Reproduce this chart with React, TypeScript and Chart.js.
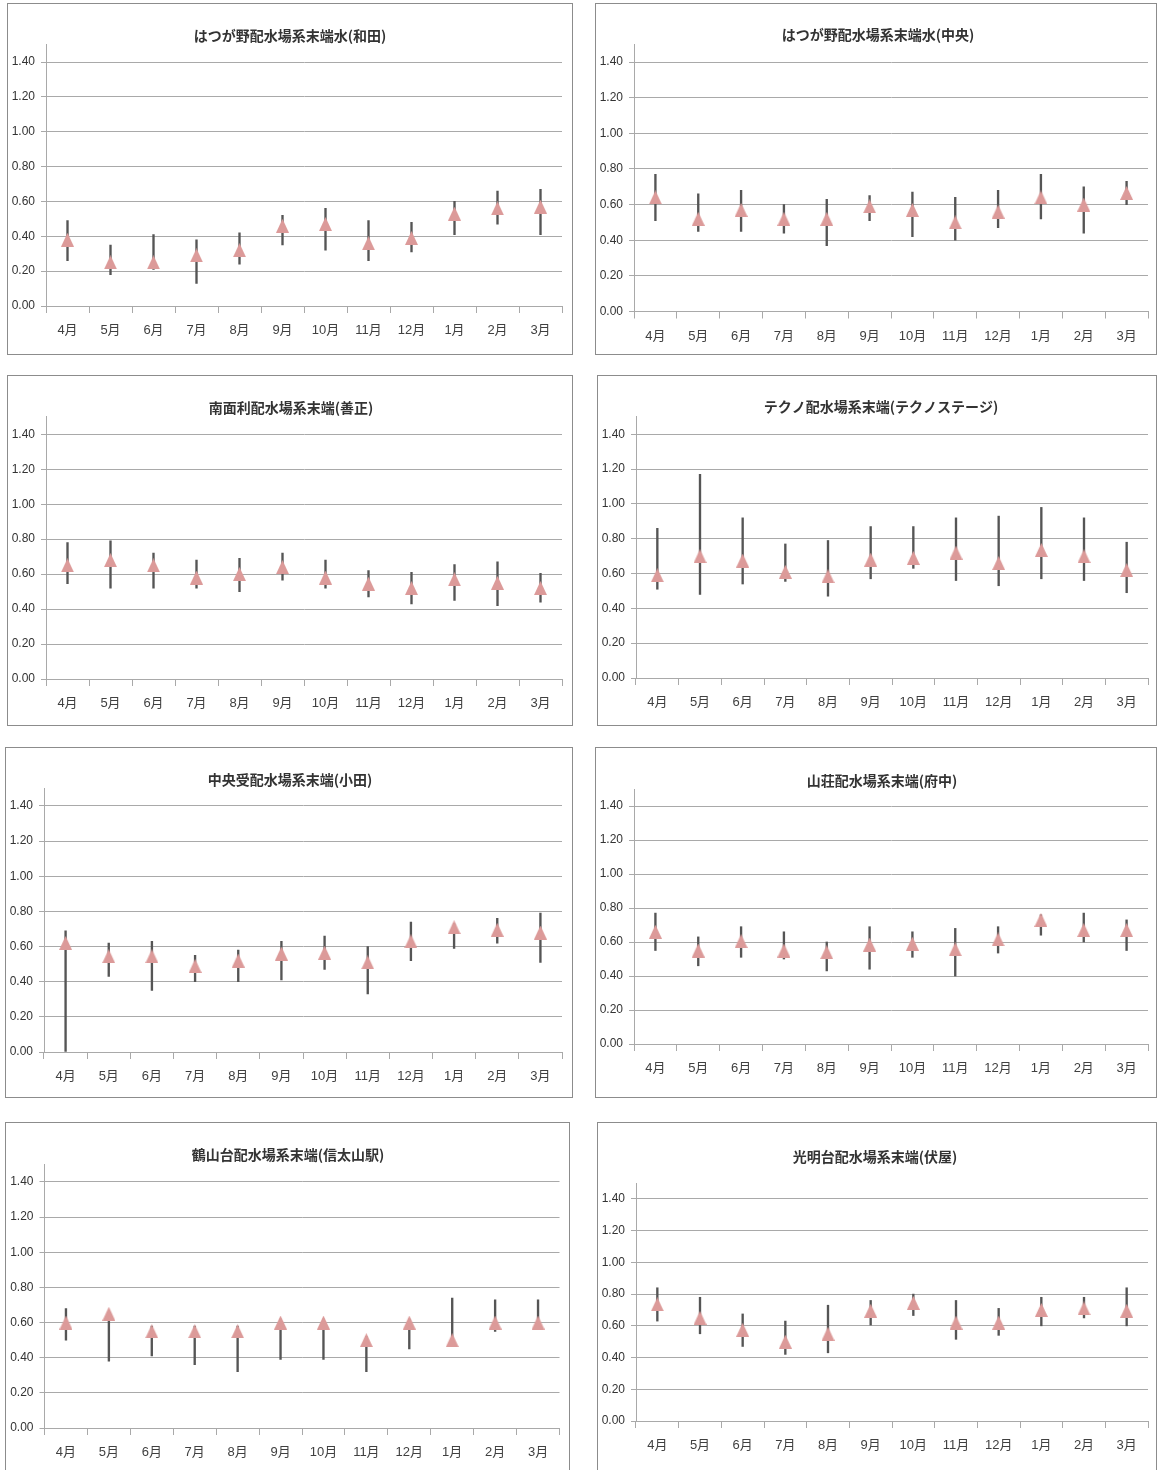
import React, { useEffect, useRef } from 'react';
import { Chart, registerables } from 'chart.js';
Chart.register(...registerables);

const months = ['4月', '5月', '6月', '7月', '8月', '9月', '10月', '11月', '12月', '1月', '2月', '3月'];

const wadaAvg = [0.38, 0.25, 0.25, 0.29, 0.32, 0.46, 0.47, 0.36, 0.39, 0.53, 0.56, 0.57];
const wadaMax = [0.49, 0.35, 0.41, 0.38, 0.42, 0.52, 0.56, 0.49, 0.48, 0.60, 0.66, 0.67];
const wadaMin = [0.26, 0.18, 0.21, 0.13, 0.24, 0.35, 0.32, 0.26, 0.31, 0.41, 0.47, 0.41];

const chuoAvg = [0.64, 0.52, 0.57, 0.52, 0.52, 0.59, 0.57, 0.50, 0.56, 0.64, 0.60, 0.665];
const chuoMax = [0.77, 0.66, 0.68, 0.60, 0.63, 0.65, 0.67, 0.64, 0.68, 0.77, 0.70, 0.73];
const chuoMin = [0.51, 0.45, 0.45, 0.44, 0.37, 0.51, 0.42, 0.40, 0.47, 0.52, 0.44, 0.60];

const zenshoAvg = [0.65, 0.68, 0.65, 0.58, 0.60, 0.64, 0.58, 0.545, 0.52, 0.57, 0.55, 0.52];
const zenshoMax = [0.78, 0.79, 0.72, 0.68, 0.69, 0.72, 0.68, 0.62, 0.61, 0.655, 0.67, 0.605];
const zenshoMin = [0.545, 0.52, 0.52, 0.52, 0.50, 0.565, 0.52, 0.47, 0.43, 0.45, 0.42, 0.44];

const technoAvg = [0.59, 0.70, 0.675, 0.61, 0.585, 0.68, 0.69, 0.72, 0.66, 0.735, 0.70, 0.62];
const technoMax = [0.86, 1.17, 0.92, 0.77, 0.79, 0.87, 0.87, 0.92, 0.93, 0.98, 0.92, 0.78];
const technoMin = [0.51, 0.48, 0.54, 0.555, 0.47, 0.57, 0.63, 0.56, 0.53, 0.57, 0.56, 0.49];

const odaAvg = [0.62, 0.545, 0.545, 0.49, 0.52, 0.56, 0.565, 0.51, 0.63, 0.71, 0.695, 0.68];
const odaMax = [0.69, 0.62, 0.63, 0.55, 0.58, 0.63, 0.66, 0.60, 0.74, 0.73, 0.76, 0.79];
const odaMin = [0.00, 0.43, 0.35, 0.40, 0.40, 0.41, 0.47, 0.33, 0.52, 0.59, 0.62, 0.51];

const fuchuAvg = [0.66, 0.55, 0.605, 0.55, 0.54, 0.585, 0.59, 0.557, 0.615, 0.73, 0.67, 0.67];
const fuchuMax = [0.77, 0.63, 0.69, 0.66, 0.60, 0.69, 0.66, 0.68, 0.69, 0.76, 0.77, 0.73];
const fuchuMin = [0.55, 0.46, 0.51, 0.50, 0.43, 0.44, 0.51, 0.40, 0.535, 0.64, 0.60, 0.55];

const shinodayamaAvg = [0.60, 0.65, 0.55, 0.55, 0.55, 0.60, 0.60, 0.50, 0.60, 0.50, 0.60, 0.60];
const shinodayamaMax = [0.68, 0.66, 0.58, 0.58, 0.58, 0.62, 0.62, 0.52, 0.62, 0.74, 0.73, 0.73];
const shinodayamaMin = [0.50, 0.38, 0.41, 0.36, 0.32, 0.39, 0.39, 0.32, 0.45, 0.49, 0.55, 0.58];

const fuseyaAvg = [0.735, 0.65, 0.575, 0.50, 0.55, 0.695, 0.745, 0.62, 0.62, 0.70, 0.71, 0.695];
const fuseyaMax = [0.84, 0.78, 0.675, 0.63, 0.73, 0.76, 0.80, 0.76, 0.71, 0.78, 0.78, 0.84];
const fuseyaMin = [0.63, 0.55, 0.47, 0.42, 0.43, 0.605, 0.665, 0.515, 0.54, 0.60, 0.65, 0.60];

const titles = [
  'はつが野配水場系末端水(和田)',
  'はつが野配水場系末端水(中央)',
  '南面利配水場系末端(善正)',
  'テクノ配水場系末端(テクノステージ)',
  '中央受配水場系末端(小田)',
  '山荘配水場系末端(府中)',
  '鶴山台配水場系末端(信太山駅)',
  '光明台配水場系末端(伏屋)',
];

const seriesList = [
  [wadaAvg, wadaMax, wadaMin],
  [chuoAvg, chuoMax, chuoMin],
  [zenshoAvg, zenshoMax, zenshoMin],
  [technoAvg, technoMax, technoMin],
  [odaAvg, odaMax, odaMin],
  [fuchuAvg, fuchuMax, fuchuMin],
  [shinodayamaAvg, shinodayamaMax, shinodayamaMin],
  [fuseyaAvg, fuseyaMax, fuseyaMin],
];

// layout: box [x, y, w, h], plot [left, right, top(1.5), bottom(0)], title centre [x, y]
const layouts = [
  { box: [7, 3, 566, 352], plot: [46, 562, 44.6, 306], titleAt: [290, 36] },
  { box: [595, 3, 562, 352], plot: [634, 1150, 44.2, 311.5], titleAt: [878, 35] },
  { box: [7, 375, 566, 351], plot: [46, 562, 416.8, 679], titleAt: [291, 408] },
  { box: [597, 375, 560, 351], plot: [636, 1151, 416.9, 678], titleAt: [881, 407] },
  { box: [5, 747, 568, 351], plot: [44, 562, 788.4, 1052], titleAt: [290, 780] },
  { box: [595, 747, 562, 351], plot: [634, 1151, 789, 1044], titleAt: [882, 781] },
  { box: [5, 1122, 565, 360], plot: [44.5, 559.5, 1164.4, 1428], titleAt: [288, 1155] },
  { box: [597, 1122, 560, 360], plot: [636, 1151, 1183.1, 1421], titleAt: [875, 1157] },
];

const FONT = "'Liberation Sans', 'Noto Sans CJK JP', sans-serif";
const GRID = '#a9a9a9';
const MARKER = '#dc9a99';

function makeTriangle(): HTMLCanvasElement {
  const c = document.createElement('canvas');
  c.width = 13;
  c.height = 14;
  const ctx = c.getContext('2d')!;
  ctx.fillStyle = MARKER;
  ctx.beginPath();
  ctx.moveTo(6.5, 0);
  ctx.lineTo(13, 14);
  ctx.lineTo(0, 14);
  ctx.closePath();
  ctx.fill();
  return c;
}

function Panel({ idx }: { idx: number }) {
  const ref = useRef<HTMLCanvasElement>(null);
  const lay = layouts[idx];
  const [bx, by, bw, bh] = lay.box;
  const cx = bx + 1;
  const cy = by + 1;
  const cw = bw - 2;
  const ch = bh - 2;

  useEffect(() => {
    const [pl, pr, pt, pb] = lay.plot;
    const [avg, max, min] = seriesList[idx];
    const title = titles[idx];
    const titlePlugin = {
      id: 'panelTitle',
      afterDraw(chart: any) {
        const ctx = chart.ctx;
        ctx.save();
        ctx.font = "bold 14px 'Noto Sans CJK JP', sans-serif";
        ctx.fillStyle = '#333333';
        ctx.textAlign = 'center';
        ctx.textBaseline = 'middle';
        ctx.fillText(title, lay.titleAt[0] - cx, lay.titleAt[1] - cy);
        ctx.restore();
      },
    };
    const chart = new Chart(ref.current!, {
      type: 'bar',
      data: {
        labels: months,
        datasets: [
          {
            type: 'line',
            data: avg,
            showLine: false,
            pointStyle: makeTriangle(),
            pointRadius: 7,
            order: 1,
          } as any,
          {
            type: 'bar',
            data: min.map((v, i) => [v, max[i]]),
            backgroundColor: '#555555',
            borderWidth: 0,
            barThickness: 1.7,
            order: 2,
          } as any,
        ],
      },
      options: {
        responsive: false,
        maintainAspectRatio: false,
        animation: false,
        layout: { padding: { left: 0, top: pt - cy, right: cx + cw - pr, bottom: 0 } },
        plugins: {
          legend: { display: false },
          tooltip: { enabled: false },
          title: { display: false },
        },
        scales: {
          x: {
            grid: { drawOnChartArea: false, drawTicks: true, tickLength: 7, color: GRID },
            border: { color: GRID },
            ticks: {
              color: '#404040',
              font: { size: 13, family: FONT },
              padding: 10,
              maxRotation: 0,
              autoSkip: false,
            },
            afterFit: (a: any) => {
              a.height = cy + ch - pb;
            },
          },
          y: {
            min: 0,
            max: 1.5,
            afterBuildTicks: (a: any) => {
              a.ticks = a.ticks.filter((t: any) => t.value < 1.45);
            },
            grid: { color: GRID, tickLength: 5 },
            border: { color: GRID },
            ticks: {
              stepSize: 0.2,
              color: '#333333',
              font: { size: 12, family: FONT },
              padding: 6,
              callback: (v: any) => Number(v).toFixed(2),
            },
            afterFit: (a: any) => {
              a.width = pl - cx;
            },
          },
        },
      } as any,
      plugins: [titlePlugin],
    });
    return () => chart.destroy();
  }, []);

  return (
    <div
      style={{
        position: 'absolute',
        left: bx,
        top: by,
        width: bw,
        height: bh,
        boxSizing: 'border-box',
        border: '1px solid #8c8c8c',
        background: '#fff',
      }}
    >
      <canvas ref={ref} width={cw} height={ch} style={{ display: 'block', width: cw, height: ch }} />
    </div>
  );
}

export default function App() {
  return (
    <div
      style={{
        position: 'absolute',
        left: 0,
        top: 0,
        width: 1157,
        height: 1470,
        overflow: 'hidden',
        background: '#fff',
      }}
    >
      {layouts.map((_, i) => (
        <Panel key={i} idx={i} />
      ))}
    </div>
  );
}
